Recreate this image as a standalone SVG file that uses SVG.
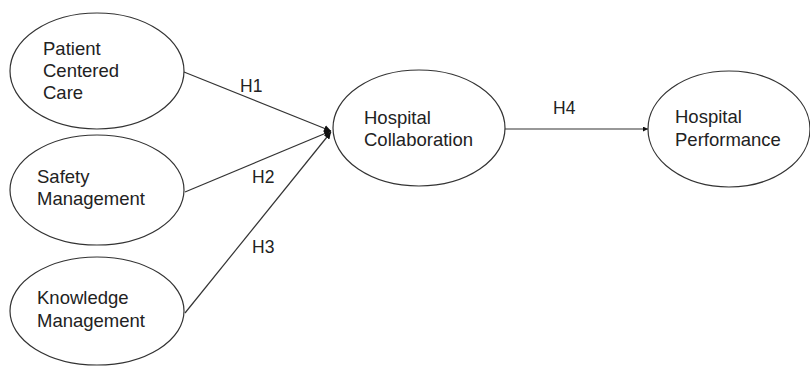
<svg xmlns="http://www.w3.org/2000/svg" width="810" height="366" viewBox="0 0 810 366">
<style>
.node ellipse{fill:#fff;stroke:#333;stroke-width:1.2}
.node text,.lbl{font-family:"Liberation Sans",Arial,sans-serif;font-size:18.5px;fill:#222}
.lbl{font-size:17.5px}
.edge{stroke:#333;stroke-width:1.2;fill:none}
</style>
<defs>
<marker id="ah" viewBox="0 0 10 10" refX="10" refY="5" markerWidth="7" markerHeight="7" markerUnits="userSpaceOnUse" orient="auto">
<path d="M0,0 L10,5 L0,10 z" fill="#111"/>
</marker>
<marker id="ahs" viewBox="0 0 10 10" refX="10" refY="5" markerWidth="5" markerHeight="5" markerUnits="userSpaceOnUse" orient="auto">
<path d="M0,0 L10,5 L0,10 z" fill="#111"/>
</marker>
</defs>
<rect width="810" height="366" fill="#fff"/>
<g id="connectors">
<line class="edge" x1="184" y1="72" x2="331" y2="131" marker-end="url(#ah)"/>
<line class="edge" x1="185" y1="192" x2="331" y2="131" marker-end="url(#ah)"/>
<line class="edge" x1="185" y1="313" x2="331" y2="132" marker-end="url(#ah)"/>
<line class="edge" x1="505" y1="129" x2="648" y2="129" marker-end="url(#ahs)"/>
<text class="lbl" x="240" y="92">H1</text>
<text class="lbl" x="252" y="183">H2</text>
<text class="lbl" x="252" y="253">H3</text>
<text class="lbl" x="553" y="114">H4</text>
</g>
<g id="patient-centered-care" class="node">
<ellipse cx="97" cy="71" rx="87" ry="58"/>
<text x="43" y="55">Patient</text>
<text x="43" y="77">Centered</text>
<text x="43" y="99">Care</text>
</g>
<g id="safety-management" class="node">
<ellipse cx="97" cy="190" rx="87" ry="55"/>
<text x="37" y="183">Safety</text>
<text x="37" y="205">Management</text>
</g>
<g id="knowledge-management" class="node">
<ellipse cx="97" cy="311" rx="87" ry="54"/>
<text x="37" y="304">Knowledge</text>
<text x="37" y="327">Management</text>
</g>
<g id="hospital-collaboration" class="node">
<ellipse cx="419" cy="128" rx="86" ry="58"/>
<text x="364" y="124">Hospital</text>
<text x="364" y="146">Collaboration</text>
</g>
<g id="hospital-performance" class="node">
<ellipse cx="729" cy="129" rx="81" ry="58"/>
<text x="675" y="123">Hospital</text>
<text x="675" y="146">Performance</text>
</g>
</svg>
